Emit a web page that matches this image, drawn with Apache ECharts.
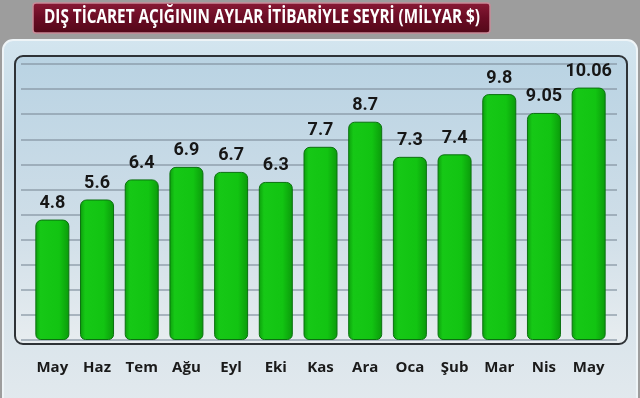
<!DOCTYPE html>
<html>
<head>
<meta charset="utf-8">
<script src="https://cdn.jsdelivr.net/npm/echarts@6/dist/echarts.min.js"></script>
<style>html,body{margin:0;padding:0;background:#9d9d9d;}#c{width:640px;height:398px;}</style>
</head>
<body>
<div id="c"></div>
<script>
const titleText = 'DIŞ TİCARET AÇIĞININ AYLAR İTİBARİYLE SEYRİ (MİLYAR $)';
const categories = ['May','Haz','Tem','Ağu','Eyl','Eki','Kas','Ara','Oca','Şub','Mar','Nis','May'];
const values = [4.8, 5.6, 6.4, 6.9, 6.7, 6.3, 7.7, 8.7, 7.3, 7.4, 9.8, 9.05, 10.06];
const valueLabels = ['4.8','5.6','6.4','6.9','6.7','6.3','7.7','8.7','7.3','7.4','9.8','9.05','10.06'];

const titleFont = 'bold 19px "Open Sans", sans-serif';
const mctx = document.createElement('canvas').getContext('2d');
mctx.font = titleFont;
const titleScale = 436 / mctx.measureText(titleText).width;

const chart = echarts.init(document.getElementById('c'), null, {renderer:'canvas'});
const lin = (c) => new echarts.graphic.LinearGradient(0,0,0,1,c);
chart.setOption({
  backgroundColor: '#9d9d9d',
  animation: false,
  graphic: {
    elements: [
      {type:'rect', z:-20, silent:true, shape:{x:3,y:40,width:634,height:380,r:10},
       style:{fill: lin([{offset:0,color:'#d3e5ef'},{offset:0.3,color:'#c6dae6'},{offset:1,color:'#e4eaee'}]), stroke:'#eef4f7', lineWidth:2}},
      {type:'rect', z:-19, silent:true, shape:{x:15,y:56,width:612,height:288,r:8},
       style:{fill: lin([{offset:0,color:'#b9d3e3'},{offset:0.6,color:'#cfdee8'},{offset:1,color:'#e8edf0'}]), stroke:'#2e3236', lineWidth:2}},
      {type:'rect', z:-18, silent:true, shape:{x:33,y:3,width:457,height:30,r:3},
       style:{fill: lin([{offset:0,color:'#8a1a36'},{offset:0.5,color:'#6a0c24'},{offset:1,color:'#520818'}]), stroke:'#c88a98', lineWidth:1.5}},
      {type:'text', z:10, silent:true, x:262, y:18, scaleX:titleScale,
       style:{text:titleText, fill:'#ffffff', font:titleFont, align:'center', verticalAlign:'middle'}}
    ]
  },
  grid: [
    {left:30, right:29, top:64, bottom:58},
    {left:21, right:23, top:64, bottom:58}
  ],
  xAxis: [
    {type:'category', gridIndex:0, data:categories, axisLine:{show:false}, axisTick:{show:false},
     axisLabel:{margin:20, color:'#1a1a1a', fontFamily:'"Open Sans", sans-serif', fontWeight:'bold', fontSize:15}},
    {type:'category', gridIndex:1, data:categories, show:false}
  ],
  yAxis: [
    {type:'value', gridIndex:0, min:0, max:11, interval:1, show:false, splitLine:{show:false}},
    {type:'value', gridIndex:1, min:0, max:11, interval:1, axisLine:{show:false}, axisTick:{show:false}, axisLabel:{show:false},
     splitLine:{show:true, lineStyle:{color:'rgba(130,145,158,0.6)', width:2}}}
  ],
  series: [{
    type:'bar', xAxisIndex:0, yAxisIndex:0, data:values, barWidth:34, z:5,
    itemStyle:{
      color: new echarts.graphic.LinearGradient(0,0,1,0,[
        {offset:0,color:'#0c9e0c'},{offset:0.15,color:'#16c816'},{offset:0.7,color:'#12c412'},{offset:1,color:'#0b9a0b'}]),
      borderColor:'#0b7010', borderWidth:1, borderRadius:[6,6,5,5]
    },
    label:{show:true, position:'top', distance:7, color:'#161616',
      fontFamily:'Roboto, sans-serif', fontWeight:'bold', fontSize:18,
      formatter:(p)=>valueLabels[p.dataIndex]}
  }]
});
</script>
</body>
</html>
